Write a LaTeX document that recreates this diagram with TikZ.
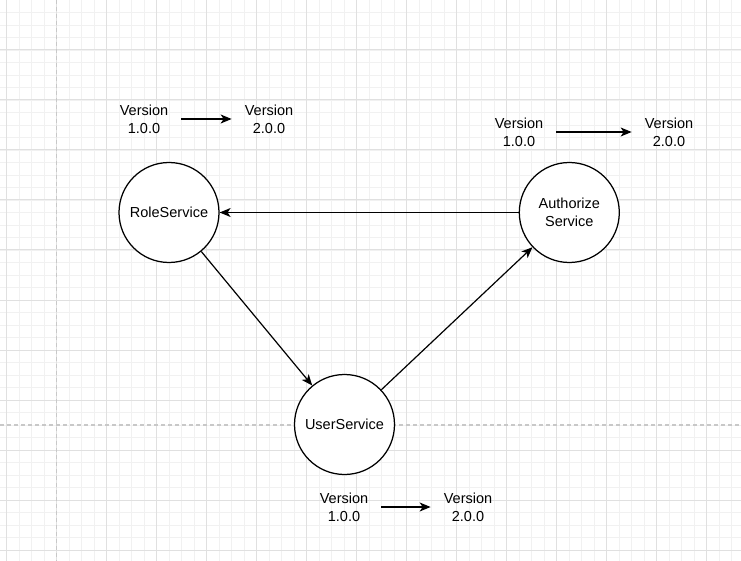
\documentclass[tikz,border=0pt]{standalone}
\usepackage{fontspec}
\setmainfont{Liberation Sans}
\usetikzlibrary{arrows.meta}
\definecolor{gminor}{HTML}{F1F1F1}
\definecolor{gmajor}{HTML}{E0E0E0}
\definecolor{gdash}{HTML}{C8C8C8}
\begin{document}
\begin{tikzpicture}[x=1pt,y=-1pt,
  svc/.style={circle, draw=black, line width=1.25pt, fill=white, minimum size=100pt, inner sep=0pt, align=center, font=\fontsize{14.5}{18}\selectfont},
  ver/.style={align=center, font=\fontsize{14.5}{18}\selectfont, inner xsep=13pt, inner ysep=0pt},
  conn/.style={line width=1.2pt, -{Stealth[length=11pt,width=9pt,inset=3pt]}},
  minorgrid/.style={gminor, line width=0.8pt},
  majorgrid/.style={gmajor, line width=1pt},
  pagebreak/.style={gdash, line width=1.5pt, dash pattern=on 4pt off 3pt},
]
\useasboundingbox (0,0) rectangle (741,561);
\fill[white] (0,0) rectangle (741,561);
% minor grid
\foreach \k in {0,...,58} \draw[minorgrid] (6.7+12.5*\k,0) -- (6.7+12.5*\k,561);
\foreach \k in {1,...,44} \draw[minorgrid] (0,12.5*\k) -- (741,12.5*\k);
% major grid
\foreach \k in {0,...,14} \draw[majorgrid] (6.7+50*\k,0) -- (6.7+50*\k,561);
\foreach \k in {1,...,11} \draw[majorgrid] (0,50*\k) -- (741,50*\k);
% page breaks
\draw[pagebreak] (56.7,0) -- (56.7,561);
\draw[pagebreak] (0,425) -- (741,425);

% services
\node[svc] (role) at (169,212.5) {RoleService};
\node[svc] (user) at (344.5,424.5) {UserService};
\node[svc] (auth) at (569.3,212.5) {Authorize\\Service};

\draw[conn] (auth) -- (role);
\draw[conn] (role) -- (user);
\draw[conn] (user) -- (auth);

% versions
\node[ver] (rv1) at (144,119) {Version\\1.0.0};
\node[ver] (rv2) at (269,119) {Version\\2.0.0};
\node[ver] (av1) at (519,132) {Version\\1.0.0};
\node[ver] (av2) at (669,132) {Version\\2.0.0};
\node[ver] (uv1) at (344,507) {Version\\1.0.0};
\node[ver] (uv2) at (468,507) {Version\\2.0.0};

\draw[conn] (rv1) -- (rv2);
\draw[conn] (av1) -- (av2);
\draw[conn] (uv1) -- (uv2);
\end{tikzpicture}
\end{document}
